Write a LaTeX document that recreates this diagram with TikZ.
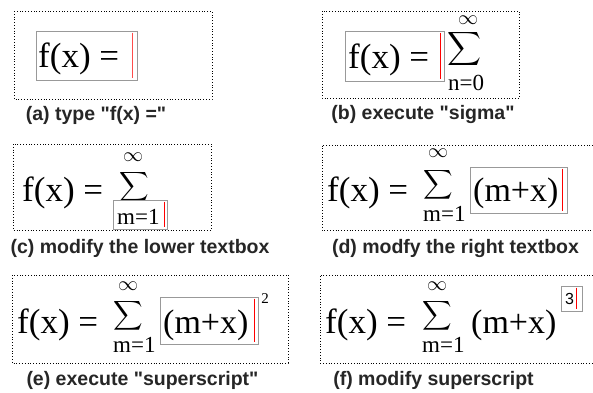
\documentclass[tikz,border=0pt]{standalone}
\usepackage{fontspec}
\setmainfont{Liberation Serif}
\newfontfamily\capfont{Liberation Sans}
\usetikzlibrary{calc,positioning}

\newcommand{\bigsig}{\scalebox{2.05}{$\displaystyle\sum$}}
\newcommand{\infsym}{\scalebox{2}{$\infty$}}

\begin{document}
\begin{tikzpicture}[
  x=1pt,y=-1pt,
  frame/.style={draw,dotted,line width=0.8pt},
  tbox/.style={draw=black!40,line width=0.8pt,inner sep=0pt},
  cursor/.style={draw=red,line width=1.8pt},
  fx/.style={font=\fontsize{35}{35}\selectfont,inner sep=0pt,anchor=base west},
  mx/.style={font=\fontsize{34}{34}\selectfont,inner sep=0pt,anchor=base west},
  sig/.style={inner sep=0pt},
  inf/.style={inner sep=0pt},
  lim/.style={font=\fontsize{23}{23}\selectfont,inner sep=0pt,anchor=base west},
  expo/.style={font=\fontsize{15}{15}\selectfont,inner sep=0pt},
  subcap/.style={font=\capfont\bfseries\fontsize{19.5}{19.5}\selectfont,text=black!85,inner sep=0pt}
]%
  \useasboundingbox (0,0) rectangle (593,392);

  % (a)
  \draw[frame] (14,11) rectangle (212,99);
  \node[tbox,minimum width=101,minimum height=49] (tA) at (86.5,55.5) {};
  \node[fx] (fA) at (38,67) {f(x) =};
  \draw[cursor,draw=red!70] ($(tA.north east)+(-5,2)$) -- ($(tA.south east)+(-5,-2)$);
  \node[subcap] (cA) at (96,115) {(a) type "f(x) ="};

  % (b)
  \draw[frame] (322,11) rectangle (519,98);
  \node[tbox,minimum width=99,minimum height=50] (tB) at (394.5,56) {};
  \node[fx] (fB) at (348,68) {f(x) =};
  \draw[cursor] ($(tB.north east)+(-4,2)$) -- ($(tB.south east)+(-4,-2)$);
  \node[sig] (sB) at (464.5,48.5) {\scalebox{1.15}{\bigsig}};
  \node[inf] (iB) at (468,20) {\infsym};
  \node[lim] (lB) at (448,90) {n=0};
  \node[subcap] (cB) at (423,114) {(b) execute "sigma"};

  % (c)
  \draw[frame] (13,144) rectangle (211,230);
  \node[fx] (fC) at (22,201) {f(x) =};
  \node[sig] (sC) at (134,187) {\bigsig};
  \node[inf] (iC) at (133,157) {\infsym};
  \node[tbox,minimum width=54,minimum height=29] (tC) at (140,214.5) {};
  \node[lim] (lC) at (117,224) {m=1};
  \draw[cursor] ($(tC.north east)+(-3,2)$) -- ($(tC.south east)+(-3,-2)$);
  \node[subcap] (cC) at (140,248) {(c) modify the lower textbox};

  % (d)
  \draw[frame] (593,145) -- (322,145) -- (322,230) -- (593,230);
  \node[fx] (fD) at (327,201) {f(x) =};
  \node[sig] (sD) at (438,184.5) {\bigsig};
  \node[inf] (iD) at (438,153) {\infsym};
  \node[lim] (lD) at (423,221) {m=1};
  \node[tbox,minimum width=97,minimum height=46] (tD) at (518.5,190) {};
  \node[mx] (mD) at (473,201) {(m+x)};
  \draw[cursor] ($(tD.north east)+(-5,2)$) -- ($(tD.south east)+(-5,-2)$);
  \node[subcap] (cD) at (455.5,248) {(d) modfy the right textbox};

  % (e)
  \draw[frame] (12,275) rectangle (288,363);
  \node[fx] (fE) at (17,333) {f(x) =};
  \node[sig] (sE) at (128,315.5) {\bigsig};
  \node[inf] (iE) at (128,286) {\infsym};
  \node[lim] (lE) at (113,352) {m=1};
  \node[tbox,minimum width=98,minimum height=47] (tE) at (209,320.5) {};
  \node[mx] (mE) at (163,333) {(m+x)};
  \draw[cursor] ($(tE.north east)+(-4,2)$) -- ($(tE.south east)+(-4,-2)$);
  \node[expo] (pE) at (265,299) {2};
  \node[subcap] (cE) at (142.5,380) {(e) execute "superscript"};

  % (f)
  \draw[frame] (593,275) -- (320,275) -- (320,363) -- (593,363);
  \node[fx] (fF) at (325,333) {f(x) =};
  \node[sig] (sF) at (437,315.5) {\bigsig};
  \node[inf] (iF) at (437,286) {\infsym};
  \node[lim] (lF) at (422,352) {m=1};
  \node[mx] (mF) at (471,333) {(m+x)};
  \node[tbox,minimum width=21,minimum height=25] (tF) at (571.5,298.5) {};
  \node[expo,font=\capfont\fontsize{16}{16}\selectfont] (pF) at (569.5,299) {3};
  \draw[cursor] ($(tF.north east)+(-6,2)$) -- ($(tF.south east)+(-6,-2)$);
  \node[subcap] (cF) at (433.5,380) {(f) modify superscript};

\end{tikzpicture}
\end{document}
